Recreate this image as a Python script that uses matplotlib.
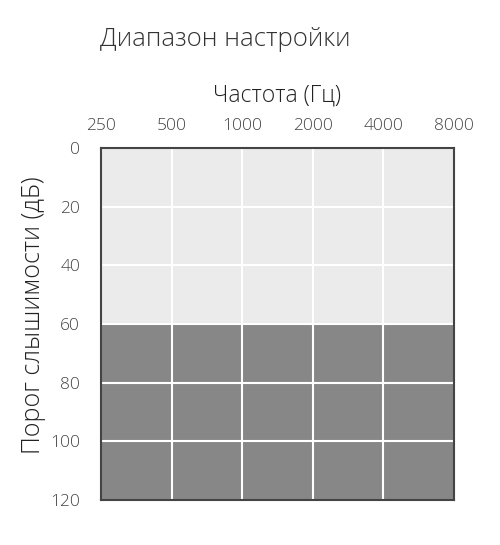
import matplotlib.pyplot as plt
import matplotlib.patches as mpatches

# Frequencies (Hz) shown along the top axis
frequencies = ["250", "500", "1000", "2000", "4000", "8000"]
# Threshold ticks (dB)
db_ticks = [0, 20, 40, 60, 80, 100, 120]
# Tuning range bands: (start dB, end dB)
band_light = (0, 60)
band_dark = (60, 120)

plt.rcParams['font.family'] = ['Open Sans', 'DejaVu Sans']
plt.rcParams['font.weight'] = 'light'

fig = plt.figure(figsize=(5.0, 5.45), dpi=100)
ax = fig.add_axes([101 / 500, 1 - 500 / 545, 353 / 500, 352 / 545])

n = len(frequencies)
ax.add_patch(mpatches.Rectangle((0, band_light[0]), n - 1, band_light[1] - band_light[0],
                                facecolor='#ebebeb', edgecolor='none', zorder=0))
ax.add_patch(mpatches.Rectangle((0, band_dark[0]), n - 1, band_dark[1] - band_dark[0],
                                facecolor='#878787', edgecolor='none', zorder=0))

ax.set_xlim(0, n - 1)
ax.set_ylim(max(db_ticks), min(db_ticks))
ax.set_xticks(range(n))
ax.set_xticklabels(frequencies)
ax.set_yticks(db_ticks)
ax.xaxis.tick_top()
ax.xaxis.set_label_position('top')

for i in range(1, n - 1):
    ax.axvline(i, color='white', lw=1.5, zorder=1)
for v in db_ticks[1:-1]:
    ax.axhline(v, color='white', lw=1.5, zorder=1)

ax.tick_params(axis='both', length=0, labelsize=12.5, colors='#444444')
ax.tick_params(axis='x', pad=10)
ax.tick_params(axis='y', pad=15)
for s in ax.spines.values():
    s.set_color('#444444')
    s.set_linewidth(1.5)

ax.set_xlabel("Частота (Гц)", fontsize=16.5, color='#222222', labelpad=12, fontweight='light')
ax.set_ylabel("Порог слышимости (дБ)", fontsize=18, color='#222222', fontweight='light')
ax.yaxis.set_label_coords(-0.155, 0.525)
fig.text(100 / 500, 1 - 40 / 545, "Диапазон настройки", fontsize=18.5, color='#333333',
         ha='left', va='center')

fig.savefig("out.png", dpi=100)
